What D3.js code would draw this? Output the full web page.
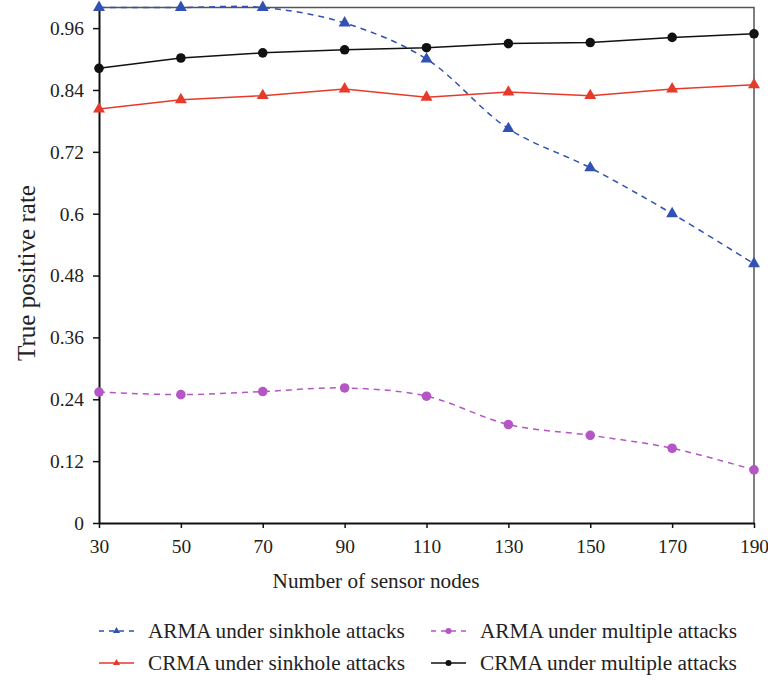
<!DOCTYPE html>
<html>
<head>
<meta charset="utf-8">
<script src="https://cdn.jsdelivr.net/npm/d3@7"></script>
<style>
  body { margin: 0; background: #fff; }
</style>
</head>
<body>
<svg id="chart" width="768" height="682"></svg>
<script>
// data
const nodes = [30, 50, 70, 90, 110, 130, 150, 170, 190];
const armaSinkhole = [1.0, 1.0, 1.0, 0.970, 0.900, 0.765, 0.689, 0.600, 0.503];
const armaMultiple = [0.254, 0.249, 0.255, 0.262, 0.246, 0.191, 0.170, 0.145, 0.103];
const crmaSinkhole = [0.803, 0.821, 0.829, 0.842, 0.826, 0.836, 0.829, 0.842, 0.850];
const crmaMultiple = [0.882, 0.902, 0.912, 0.918, 0.922, 0.930, 0.932, 0.942, 0.949];
const yTicks = [0, 0.12, 0.24, 0.36, 0.48, 0.6, 0.72, 0.84, 0.96];

const series = [
  { name: "ARMA under sinkhole attacks", values: armaSinkhole, color: "#3152b3", dash: "6,5", shape: "tri", smooth: true },
  { name: "CRMA under sinkhole attacks", values: crmaSinkhole, color: "#e63a2b", dash: null, shape: "tri", smooth: false },
  { name: "ARMA under multiple attacks", values: armaMultiple, color: "#b456c6", dash: "6,5", shape: "circ", smooth: true },
  { name: "CRMA under multiple attacks", values: crmaMultiple, color: "#111111", dash: null, shape: "circ", smooth: false }
];

// pick the first serif face that is really installed
function pickFont(list) {
  const ctx = document.createElement("canvas").getContext("2d");
  const probe = "Number of sensor nodes 0.96 ARMA";
  ctx.font = "20px monospace";
  const base = ctx.measureText(probe).width;
  for (const f of list) {
    ctx.font = `20px '${f}', monospace`;
    if (Math.abs(ctx.measureText(probe).width - base) > 0.5) return `'${f}', serif`;
  }
  return "serif";
}
const FONT = pickFont(["Liberation Serif", "Times New Roman", "Tinos", "DejaVu Serif", "Noto Serif", "FreeSerif"]);

const margin = { top: 7.5, right: 14, bottom: 159, left: 99 };
const width = 768, height = 682;
const innerW = width - margin.left - margin.right;
const innerH = height - margin.top - margin.bottom;

const svg = d3.select("#chart").attr("font-family", FONT);
const g = svg.append("g").attr("transform", `translate(${margin.left},${margin.top})`);

// grow/shrink a text's font size so it spans the given width
function fit(sel, w) {
  const fs = +sel.attr("font-size");
  const len = sel.node().getComputedTextLength();
  if (len > 0) sel.attr("font-size", (fs * w / len).toFixed(2));
  return sel;
}

const x = d3.scaleLinear().domain([30, 190]).range([0, innerW]);
const y = d3.scaleLinear().domain([0, 1]).range([innerH, 0]);

// top and right frame
g.append("path")
  .attr("d", `M0,0H${innerW}V${innerH}`)
  .attr("fill", "none").attr("stroke", "#555").attr("stroke-width", 1.5);

const xAxis = g.append("g")
  .attr("transform", `translate(0,${innerH})`)
  .call(d3.axisBottom(x).tickValues(nodes).tickSize(5).tickSizeOuter(0));
const yAxis = g.append("g")
  .call(d3.axisLeft(y).tickValues(yTicks).tickSize(6).tickSizeOuter(0)
    .tickFormat(d => String(d)));

[xAxis, yAxis].forEach(a => {
  a.attr("font-family", FONT).attr("font-size", 19);
  a.select(".domain").attr("stroke", "#111").attr("stroke-width", 2);
  a.selectAll(".tick line").attr("stroke", "#111").attr("stroke-width", 1.5);
  a.selectAll(".tick text").attr("fill", "#222");
});
// size tick labels so "0.96" is about 34px wide as in the figure
const probeTick = yAxis.selectAll(".tick text").filter(d => d === 0.96);
const tickLen = probeTick.node().getComputedTextLength();
const tickFs = (19 * 34 / tickLen).toFixed(2);
xAxis.attr("font-size", tickFs);
yAxis.attr("font-size", tickFs);
xAxis.selectAll(".tick text").attr("y", 0).attr("dy", null).attr("transform", "translate(0,30)");
yAxis.selectAll(".tick text").attr("x", -15).attr("dy", "0.33em");

const tri = d3.symbol().type(d3.symbolTriangle).size(62);
const triSmall = d3.symbol().type(d3.symbolTriangle).size(22);

series.forEach(s => {
  const pts = nodes.map((n, i) => [n, s.values[i]]);
  const line = d3.line()
    .x(d => x(d[0])).y(d => y(d[1]))
    .curve(s.smooth ? d3.curveCatmullRom.alpha(0.5) : d3.curveLinear);
  g.append("path")
    .datum(pts)
    .attr("d", line)
    .attr("fill", "none")
    .attr("stroke", s.color)
    .attr("stroke-width", 1.5)
    .attr("stroke-dasharray", s.dash);
  if (s.shape === "tri") {
    g.selectAll(null).data(pts).join("path")
      .attr("d", tri)
      .attr("transform", d => `translate(${x(d[0])},${y(d[1])})`)
      .attr("fill", s.color);
  } else {
    g.selectAll(null).data(pts).join("circle")
      .attr("cx", d => x(d[0])).attr("cy", d => y(d[1]))
      .attr("r", 4.8).attr("fill", s.color);
  }
});

// axis titles
const xt = svg.append("text")
  .attr("x", 376).attr("y", 588)
  .attr("text-anchor", "middle").attr("font-size", 20).attr("fill", "#222")
  .text("Number of sensor nodes");
fit(xt, 207);
const yt = svg.append("text")
  .attr("transform", `translate(35,273) rotate(-90)`)
  .attr("text-anchor", "middle").attr("font-size", 20).attr("fill", "#222")
  .text("True positive rate");
fit(yt, 176);

// legend
const legendPos = [
  { x: 99, y: 631 }, { x: 99, y: 663 }, { x: 431, y: 631 }, { x: 431, y: 663 }
];
series.forEach((s, i) => {
  const p = legendPos[i];
  const lg = svg.append("g").attr("transform", `translate(${p.x},${p.y})`);
  lg.append("line").attr("x1", 0).attr("x2", 35).attr("y1", 0).attr("y2", 0)
    .attr("stroke", s.color).attr("stroke-width", 1.5)
    .attr("stroke-dasharray", s.dash ? "5,5" : null);
  if (s.shape === "tri") {
    lg.append("path").attr("d", triSmall).attr("transform", "translate(17.5,0)").attr("fill", s.color);
  } else {
    lg.append("circle").attr("cx", 17.5).attr("cy", 0).attr("r", 3).attr("fill", s.color);
  }
  const t = lg.append("text").attr("x", 49).attr("y", 0).attr("dy", "0.35em")
    .attr("font-size", 20).attr("fill", "#222").text(s.name);
  fit(t, 257);
});
</script>
</body>
</html>
